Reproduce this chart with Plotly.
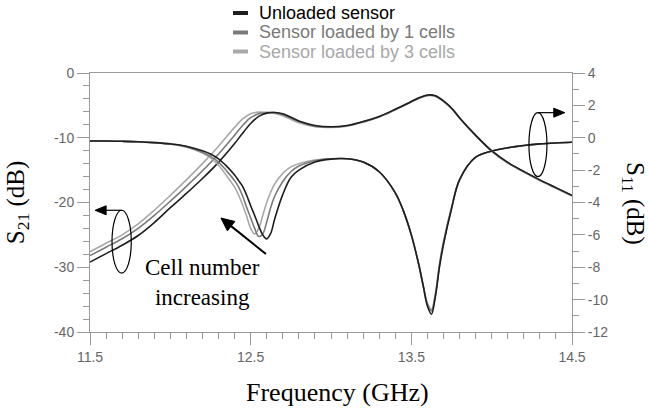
import math
import plotly.graph_objects as go

# ---- data -------------------------------------------------------------
series_names = ["Unloaded sensor", "Sensor loaded by 1 cells", "Sensor loaded by 3 cells"]
series_colors = ["#1e1e1e", "#7a7a7a", "#a8a8a8"]

freq_s21 = [11.5, 11.6, 11.7, 11.8, 11.9, 12.0, 12.1, 12.2, 12.3, 12.4, 12.45, 12.5,
            12.55, 12.6, 12.65, 12.7, 12.8, 12.9, 13.0, 13.1, 13.2, 13.3, 13.4, 13.5,
            13.55, 13.6, 13.65, 13.7, 13.75, 13.8, 13.9, 14.0, 14.1, 14.2, 14.3, 14.4, 14.5]

s21_unloaded = [-29.2, -27.9, -26.6, -25.1, -23.1, -20.8, -18.6, -16.3, -13.8, -10.9, -9.3, -7.8,
                -6.7, -6.2, -6.1, -6.3, -7.4, -8.1, -8.3, -8.1, -7.5, -6.7, -5.6, -4.4,
                -3.8, -3.4, -3.5, -4.3, -5.4, -6.9, -9.6, -12.0, -13.8, -15.2, -16.5, -17.7, -18.9]
s21_cells1 = [-28.2, -26.9, -25.6, -24.0, -22.0, -19.8, -17.5, -15.1, -12.5, -9.6, -8.1, -6.9,
              -6.3, -6.1, -6.1, -6.4, -7.5, -8.2, -8.35, -8.15, -7.55, -6.75, -5.65, -4.45,
              -3.85, -3.45, -3.55, -4.35, -5.45, -6.95, -9.65, -12.05, -13.85, -15.25, -16.55, -17.75, -18.95]
s21_cells3 = [-27.6, -26.3, -25.0, -23.3, -21.2, -18.9, -16.5, -14.0, -11.3, -8.4, -7.1, -6.3,
              -6.05, -6.1, -6.25, -6.6, -7.7, -8.3, -8.4, -8.2, -7.6, -6.8, -5.7, -4.5,
              -3.9, -3.5, -3.6, -4.4, -5.5, -7.0, -9.7, -12.1, -13.9, -15.3, -16.6, -17.8, -19.0]

freq_s11 = [11.5, 11.6, 11.7, 11.8, 11.9, 12.0, 12.1, 12.2, 12.25, 12.3, 12.35, 12.4,
            12.425, 12.45, 12.475, 12.5, 12.525, 12.55, 12.575, 12.6, 12.625, 12.65,
            12.7, 12.75, 12.8, 12.9, 13.0, 13.1, 13.2, 13.3, 13.4, 13.45, 13.5, 13.55,
            13.575, 13.6, 13.625, 13.65, 13.675, 13.7, 13.75, 13.8, 13.9, 14.0, 14.1,
            14.2, 14.3, 14.4, 14.5]

s11_unloaded = [-0.2, -0.2, -0.22, -0.25, -0.3, -0.38, -0.52, -0.8, -1.0, -1.3, -1.75, -2.3,
                -2.65, -3.0, -3.55, -4.2, -4.8, -5.45, -6.0, -6.25, -5.9, -5.0,
                -3.5, -2.45, -2.0, -1.5, -1.32, -1.3, -1.5, -2.1, -3.4, -4.5, -6.0, -8.0,
                -9.2, -10.4, -10.9, -9.8, -8.0, -6.6, -4.4, -2.6, -1.2, -0.82, -0.62,
                -0.48, -0.38, -0.32, -0.28]
s11_cells1 = [-0.2, -0.2, -0.22, -0.25, -0.3, -0.39, -0.55, -0.9, -1.15, -1.5, -2.05, -2.65,
              -3.05, -3.6, -4.3, -4.95, -5.6, -6.1, -5.95, -5.2, -4.3, -3.6,
              -2.7, -2.1, -1.75, -1.42, -1.3, -1.3, -1.5, -2.1, -3.4, -4.5, -6.0, -8.0,
              -9.2, -10.3, -10.7, -9.7, -7.9, -6.5, -4.35, -2.6, -1.2, -0.82, -0.62,
              -0.48, -0.38, -0.32, -0.28]
s11_cells3 = [-0.2, -0.2, -0.22, -0.25, -0.31, -0.4, -0.58, -0.95, -1.25, -1.7, -2.35, -3.05,
              -3.55, -4.15, -4.85, -5.6, -5.95, -5.6, -4.8, -4.0, -3.35, -2.85,
              -2.2, -1.8, -1.6, -1.38, -1.3, -1.3, -1.5, -2.1, -3.4, -4.5, -6.0, -8.0,
              -9.2, -10.2, -10.6, -9.6, -7.8, -6.4, -4.3, -2.6, -1.2, -0.82, -0.62,
              -0.48, -0.38, -0.32, -0.28]

x_tickvals = [11.5, 12.5, 13.5, 14.5]
x_ticktext = ["11.5", "12.5", "13.5", "14.5"]
y1_tickvals = [0, -10, -20, -30, -40]
y1_ticktext = ["0", "-10", "-20", "-30", "-40"]
y2_tickvals = [4, 2, 0, -2, -4, -6, -8, -10, -12]
y2_ticktext = ["4", "2", "0", "-2", "-4", "-6", "-8", "-10", "-12"]

X_RANGE = [11.5, 14.5]
Y1_RANGE = [-40, 0]
Y2_RANGE = [-12, 4]

# ---- layout geometry --------------------------------------------------
W, H = 650, 413
M_L, M_R, M_T, M_B = 90, 78, 73, 81
PLOT_W = W - M_L - M_R
PLOT_H = H - M_T - M_B
PX_PER_X = PLOT_W / (X_RANGE[1] - X_RANGE[0])
PX_PER_Y1 = PLOT_H / (Y1_RANGE[1] - Y1_RANGE[0])
PX_PER_Y2 = PLOT_H / (Y2_RANGE[1] - Y2_RANGE[0])


def arrow_shapes(tail, head, yscale, yref, length=11, half=4.5, width=1.4):
    """Line plus filled triangular head, expressed in data coordinates."""
    dxp = (head[0] - tail[0]) * PX_PER_X
    dyp = (head[1] - tail[1]) * yscale
    n = math.hypot(dxp, dyp)
    ux, uy = dxp / n, dyp / n
    bx, by = -ux * length, -uy * length          # back from the tip
    px, py = -uy * half, ux * half               # perpendicular
    pts = [(0, 0), (bx + px, by + py), (bx - px, by - py)]
    pts = [(head[0] + a / PX_PER_X, head[1] + b / yscale) for a, b in pts]
    path = "M{},{} L{},{} L{},{} Z".format(*[v for p in pts for v in p])
    base = (head[0] + bx / PX_PER_X, head[1] + by / yscale)
    return [
        dict(type="line", xref="x", yref=yref, x0=tail[0], y0=tail[1], x1=base[0], y1=base[1],
             line=dict(color="black", width=width)),
        dict(type="path", xref="x", yref=yref, path=path, fillcolor="black",
             line=dict(color="black", width=1)),
    ]


# ---- figure -----------------------------------------------------------
fig = go.Figure()

s21_sets = [s21_unloaded, s21_cells1, s21_cells3]
s11_sets = [s11_unloaded, s11_cells1, s11_cells3]

# lighter curves first so the unloaded trace sits on top
for i in [2, 1, 0]:
    fig.add_trace(go.Scatter(x=freq_s21, y=s21_sets[i], mode="lines", name=series_names[i],
                             line=dict(color=series_colors[i], width=1.6, shape="spline"),
                             showlegend=False, yaxis="y"))
    fig.add_trace(go.Scatter(x=freq_s11, y=s11_sets[i], mode="lines", name=series_names[i],
                             line=dict(color=series_colors[i], width=1.6, shape="spline"),
                             showlegend=False, yaxis="y2"))

AX = "#9a9a9a"
TICKFONT = dict(family="Liberation Sans, Arial", size=14, color="#666666")
SERIF = "Liberation Serif, Times New Roman, serif"

fig.update_layout(
    width=W, height=H,
    margin=dict(l=M_L, r=M_R, t=M_T, b=M_B),
    paper_bgcolor="white", plot_bgcolor="white",
    xaxis=dict(range=X_RANGE, tickvals=x_tickvals, ticktext=x_ticktext,
               showgrid=False, zeroline=False, showline=True, linecolor=AX, linewidth=1,
               mirror=True, ticks="outside", ticklen=12, tickcolor=AX,
               minor=dict(dtick=0.1, tick0=11.5, ticks="outside", ticklen=6, tickcolor=AX),
               tickfont=TICKFONT),
    yaxis=dict(range=Y1_RANGE, tickvals=y1_tickvals, ticktext=y1_ticktext,
               showgrid=False, zeroline=False, showline=True, linecolor=AX, linewidth=1,
               ticks="outside", ticklen=12, tickcolor=AX,
               minor=dict(dtick=2, tick0=0, ticks="outside", ticklen=6, tickcolor=AX),
               tickfont=TICKFONT,
               title=dict(text="S<sub>21</sub> (dB)", standoff=22,
                          font=dict(family=SERIF, size=25, color="black"))),
    yaxis2=dict(range=Y2_RANGE, tickvals=y2_tickvals, ticktext=y2_ticktext,
                overlaying="y", side="right",
                showgrid=False, zeroline=False, showline=True, linecolor=AX, linewidth=1,
                ticks="outside", ticklen=12, tickcolor=AX,
                minor=dict(dtick=1, tick0=0, ticks="outside", ticklen=6, tickcolor=AX),
                tickfont=TICKFONT),
)


def paper_x(px):
    return (px - M_L) / PLOT_W


def paper_y(py):
    return 1 - (py - M_T) / PLOT_H


annotations = [
    dict(text="Frequency (GHz)", xref="paper", yref="paper", x=paper_x(337), y=paper_y(392),
         showarrow=False, font=dict(family=SERIF, size=26, color="black"),
         xanchor="center", yanchor="middle"),
    # right-hand title reads top to bottom
    dict(text="S<sub>11</sub> (dB)", xref="paper", yref="paper", x=paper_x(634), y=paper_y(203),
         textangle=90, showarrow=False, font=dict(family=SERIF, size=25, color="black"),
         xanchor="center", yanchor="middle"),
    dict(text="Cell number<br>increasing", x=12.2, y=-32.3, xref="x", yref="y",
         showarrow=False, font=dict(family=SERIF, size=23, color="black"),
         xanchor="center", yanchor="middle", align="center"),
]

shapes = [
    # rings grouping each family of curves
    dict(type="circle", xref="x", yref="y", x0=11.637, x1=11.757, y0=-30.9, y1=-21.2,
         line=dict(color="black", width=1.2)),
    dict(type="circle", xref="x", yref="y2", x0=14.232, x1=14.344, y0=-2.4, y1=1.55,
         line=dict(color="black", width=1.2)),
]
# ring -> axis pointers and the trend arrow
shapes += arrow_shapes((11.697, -21.2), (11.532, -21.2), PX_PER_Y1, "y", width=1.2)
shapes += arrow_shapes((14.288, 1.55), (14.455, 1.55), PX_PER_Y2, "y2", width=1.2)
shapes += arrow_shapes((12.595, -27.95), (12.315, -22.4), PX_PER_Y1, "y", length=13, half=6, width=2)

# legend block above the plot
legend_rows_px = [13, 32.5, 51.5]
for name, color, row in zip(series_names, series_colors, legend_rows_px):
    yp = paper_y(row)
    shapes.append(dict(type="line", xref="paper", yref="paper",
                       x0=paper_x(233), x1=paper_x(248), y0=yp, y1=yp,
                       line=dict(color=color, width=4)))
    annotations.append(dict(text=name, xref="paper", yref="paper", x=paper_x(257), y=yp,
                            xanchor="left", yanchor="middle", showarrow=False,
                            font=dict(family="Liberation Sans, Arial", size=18,
                                      color="#000000" if color == series_colors[0] else color)))

fig.update_layout(annotations=annotations, shapes=shapes)

fig.write_html("out.html")
